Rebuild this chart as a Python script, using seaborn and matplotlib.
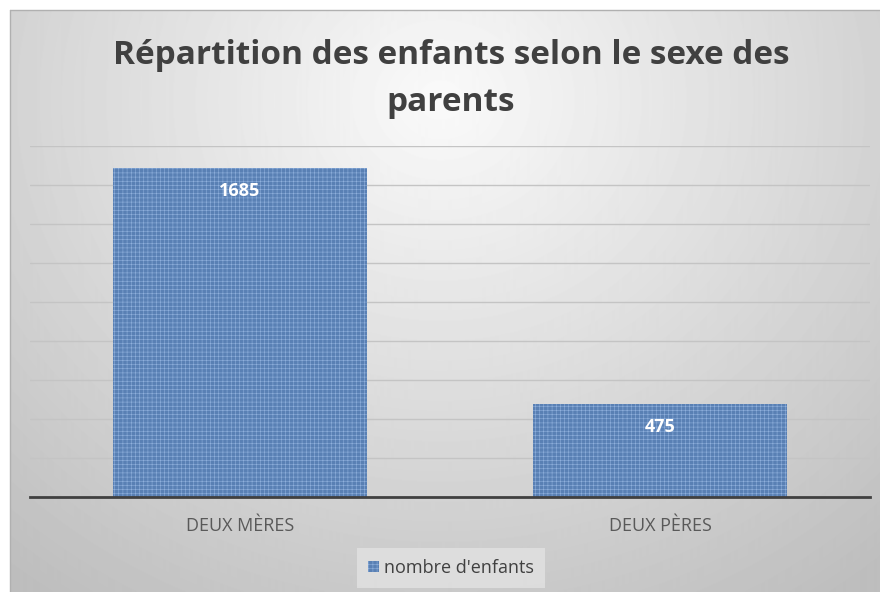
import matplotlib.pyplot as plt
import numpy as np
import pandas as pd
import seaborn as sns

# data
categories = ['DEUX MÈRES', 'DEUX PÈRES']
values = [1685, 475]
serie = "nombre d'enfants"
titre = 'Répartition des enfants selon le sexe des\nparents'

df = pd.DataFrame({'categorie': categories, 'valeur': values, 'serie': serie})

sns.set_style('white')
plt.rcParams['font.family'] = ['Open Sans', 'DejaVu Sans']
plt.rcParams['hatch.color'] = '#8fb0dc'
plt.rcParams['hatch.linewidth'] = 0.4

fig = plt.figure(figsize=(8.8, 5.92), dpi=100, facecolor='white')

# background gradient (radial, white at top centre to grey at edges)
bg = fig.add_axes([10 / 880, 0, 870 / 880, 582 / 592], zorder=-2)
yy, xx = np.mgrid[0:582, 0:870]
d = np.sqrt(((xx - 430) / 1.0) ** 2 + ((yy - 90) / 0.9) ** 2)
g = np.clip(250 - 58 * d / 650, 190, 252) / 255
bg.imshow(g, cmap='gray', vmin=0, vmax=1, aspect='auto', extent=[0, 1, 0, 1], origin='upper')
bg.set_xlim(0, 1)
bg.set_ylim(0, 1)
bg.axis('off')
fig.add_artist(plt.Line2D([10 / 880, 10 / 880], [0, 582 / 592], color='#b0b0b0', lw=1))
fig.add_artist(plt.Line2D([10 / 880, 1], [582 / 592, 582 / 592], color='#b0b0b0', lw=1))

ax = fig.add_axes([30 / 880, 1 - 497 / 592, 840 / 880, (497 - 145.7) / 592])
ax.patch.set_alpha(0)
sns.barplot(data=df, x='categorie', y='valeur', hue='serie', palette=['#4a7ec3'],
            width=0.605, ax=ax, edgecolor='#8fb0dc', linewidth=0, hatch='++++', zorder=3)

for p, v in zip(ax.patches, values):
    ax.text(p.get_x() + p.get_width() / 2, v - 115, str(v), ha='center', va='center',
            color='white', fontsize=13, fontweight='bold', zorder=5)

ax.set_xlim(-0.5, 1.5)
ax.set_ylim(0, 1800)
ax.set_yticks(range(0, 1801, 200))
ax.yaxis.grid(True, color='#c4c4c4', lw=1)
ax.set_axisbelow(True)
ax.tick_params(axis='y', left=False, labelleft=False)
ax.tick_params(axis='x', bottom=False, labelsize=13, labelcolor='#595959', pad=11)
ax.set_xlabel(None)
ax.set_ylabel(None)
for s in ['top', 'right', 'left']:
    ax.spines[s].set_visible(False)
ax.spines['bottom'].set_color('#404040')
ax.spines['bottom'].set_linewidth(2)
ax.spines['bottom'].set_zorder(4)

leg = ax.legend(loc='center', bbox_to_anchor=(451 / 880, 1 - 568 / 592),
                bbox_transform=fig.transFigure, frameon=True, fancybox=False,
                fontsize=13, handlelength=0.6, handleheight=0.6, handletextpad=0.3,
                borderpad=0.6, borderaxespad=0, labelcolor='#404040')
leg.get_frame().set_facecolor('#e2e2e2')
leg.get_frame().set_edgecolor('none')

fig.text(451 / 880, 1 - 79 / 592, titre, ha='center', va='center', fontsize=24,
         fontweight='bold', color='#404040', linespacing=1.55)

fig.savefig('out.png', dpi=100)
